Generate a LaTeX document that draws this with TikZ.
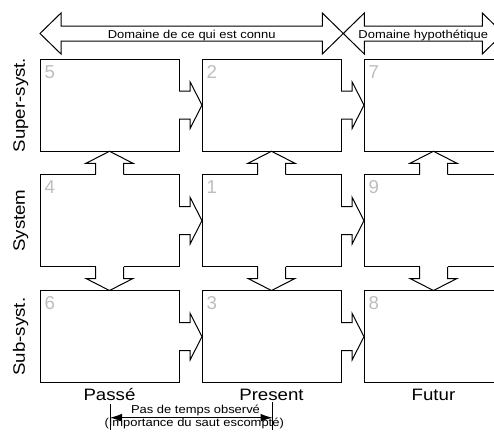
\documentclass[tikz,border=0pt]{standalone}
\usepackage{fontspec}
\setmainfont{Liberation Sans}[FakeStretch=1.13]
\newfontfamily\numfont{Liberation Sans}
\usetikzlibrary{calc,arrows.meta}
\definecolor{numgray}{RGB}{190,190,190}
\tikzset{
  box/.style={draw, line width=0.75pt, fill=white, minimum width=104.25pt, minimum height=69.2pt, inner sep=0pt, outer sep=0pt},
  num/.style={anchor=base west, inner sep=0pt, text=numgray, font=\numfont\fontsize{14}{16}\selectfont},
  conn/.style={draw, line width=0.75pt, line join=miter},
  small/.style={font=\fontsize{8.6}{10}\selectfont, inner sep=0pt, anchor=base},
  big/.style={font=\fontsize{12.4}{14}\selectfont, inner sep=0pt, anchor=base},
  tick/.style={line width=0.75pt},
  timearrow/.style={line width=0.75pt, {Latex[length=9pt,width=6pt]}-{Latex[length=9pt,width=6pt]}},
}
% rightward connector from #1 to #2
\newcommand\hconn[2]{%
  \fill[white] ($(#1.east)+(-1,-14)$) rectangle ($(#2.west)+(-12,14)$);
  \draw[conn] ($(#1.east)+(0,-14)$) -- ($(#2.west)+(-12,-14)$) -- ($(#2.west)+(-12,-23.5)$) -- (#2.west)
    -- ($(#2.west)+(-12,23.5)$) -- ($(#2.west)+(-12,14)$) -- ($(#1.east)+(0,14)$);}
% upward connector from #1 (below) to #2 (above)
\newcommand\uconn[2]{%
  \fill[white] ($(#1.north)+(-14,1)$) rectangle ($(#2.south)+(14,12)$);
  \draw[conn] ($(#1.north)+(-14,0)$) -- ($(#2.south)+(-14,12)$) -- ($(#2.south)+(-23.5,12)$) -- (#2.south)
    -- ($(#2.south)+(23.5,12)$) -- ($(#2.south)+(14,12)$) -- ($(#1.north)+(14,0)$);}
% downward connector from #1 (above) to #2 (below)
\newcommand\dconn[2]{%
  \fill[white] ($(#1.south)+(-14,-1)$) rectangle ($(#2.north)+(14,-12)$);
  \draw[conn] ($(#1.south)+(-14,0)$) -- ($(#2.north)+(-14,-12)$) -- ($(#2.north)+(-23.5,-12)$) -- (#2.north)
    -- ($(#2.north)+(23.5,-12)$) -- ($(#2.north)+(14,-12)$) -- ($(#1.south)+(14,0)$);}
\begin{document}
\begin{tikzpicture}[x=0.75pt,y=-0.75pt]
\fill[white] (0,0) rectangle (494,432);
\useasboundingbox (0,0) rectangle (494,432);
\clip (0,0) rectangle (494,432);

% top domain arrows
\draw[conn] (40,33.5) -- (61,13) -- (61,26) -- (322.3,26) -- (322.3,13) -- (343.3,33.5)
  -- (322.3,54) -- (322.3,41) -- (61,41) -- (61,54) -- cycle;
\draw[conn] (343.3,33.5) -- (364.3,13) -- (364.3,26) -- (482.3,26) -- (482.3,13) -- (503.3,33.5)
  -- (482.3,54) -- (482.3,41) -- (364.3,41) -- (364.3,54) -- cycle;
\node[small] (t1) at (191.7,38.3) {Domaine de ce qui est connu};
\node[small] (t2) at (423.3,38.3) {Domaine hypothétique};

% boxes
\node[box] (b5) at (109.5,105.15) {};
\node[box] (b2) at (271.5,105.15) {};
\node[box] (b7) at (433.5,105.15) {};
\node[box] (b4) at (109.5,220.65) {};
\node[box] (b1) at (271.5,220.65) {};
\node[box] (b9) at (433.5,220.65) {};
\node[box] (b6) at (109.5,336.65) {};
\node[box] (b3) at (271.5,336.65) {};
\node[box] (b8) at (433.5,336.65) {};

% connectors
\hconn{b5}{b2} \hconn{b2}{b7}
\hconn{b4}{b1} \hconn{b1}{b9}
\hconn{b6}{b3} \hconn{b3}{b8}
\uconn{b4}{b5} \uconn{b1}{b2} \uconn{b9}{b7}
\dconn{b4}{b6} \dconn{b1}{b3} \dconn{b9}{b8}

% numbers
\node[num] (n5) at ($(b5.north west)+(4.3,19.3)$) {5};
\node[num] (n2) at ($(b2.north west)+(4.3,19.3)$) {2};
\node[num] (n7) at ($(b7.north west)+(4.3,19.3)$) {7};
\node[num] (n4) at ($(b4.north west)+(4.3,19.3)$) {4};
\node[num] (n1) at ($(b1.north west)+(4.3,19.3)$) {1};
\node[num] (n9) at ($(b9.north west)+(4.3,19.3)$) {9};
\node[num] (n6) at ($(b6.north west)+(4.3,19.3)$) {6};
\node[num] (n3) at ($(b3.north west)+(4.3,19.3)$) {3};
\node[num] (n8) at ($(b8.north west)+(4.3,19.3)$) {8};

% side labels
\node[big, rotate=90] (s1) at (25,105.15) {Super-syst.};
\node[big, rotate=90] (s2) at (25,220.65) {System};
\node[big, rotate=90] (s3) at (25,336.65) {Sub-syst.};

% bottom labels
\node[big] (p1) at (109.5,400) {Passé};
\node[big] (p2) at (271.5,400) {Present};
\node[big] (p3) at (433.5,400) {Futur};

% time step arrow
\coordinate (ta1) at (110,404);
\coordinate (ta2) at (110,430);
\coordinate (tb1) at (272.5,402);
\coordinate (tb2) at (272.5,430);
\coordinate (tA) at (110,417.7);
\coordinate (tB) at (272.5,417.7);
\draw[tick] (ta1) -- (ta2);
\draw[tick] (tb1) -- (tb2);
\draw[timearrow] (tA) -- (tB);
\node[small] (q1) at (195.5,413.3) {Pas de temps observé};
\node[small] (q2) at (194.2,426.7) {(Importance du saut escompté)};
\end{tikzpicture}
\end{document}
